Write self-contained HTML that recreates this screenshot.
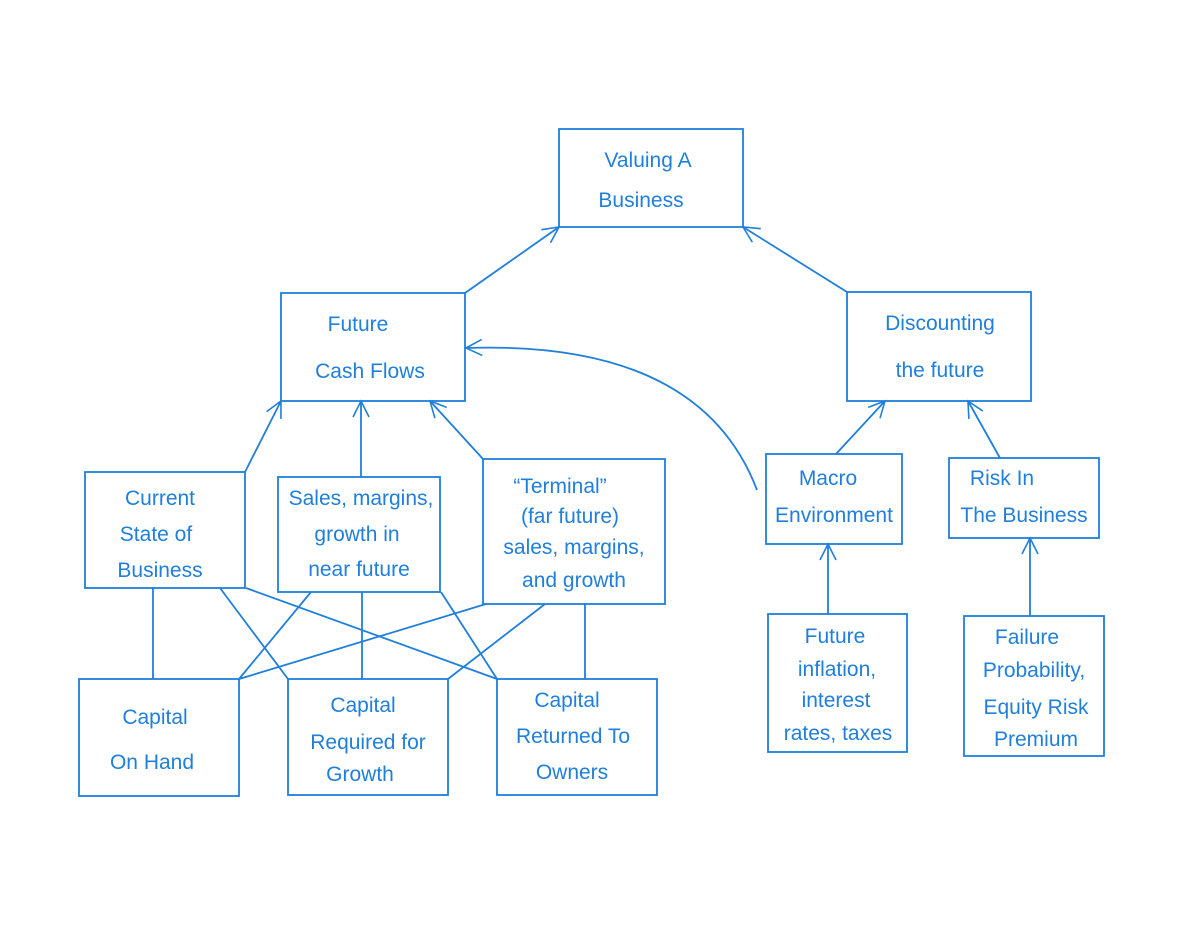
<!DOCTYPE html>
<html><head><style>
body{margin:0;background:#fff;}
svg text{font-family:"Liberation Sans",sans-serif;fill:#1f7fdb;font-size:21px;text-anchor:middle;}
</style></head><body>
<svg width="1200" height="927" viewBox="0 0 1200 927">
<defs><marker id="a" markerWidth="20" markerHeight="20" refX="18" refY="10" orient="auto" markerUnits="userSpaceOnUse">
<path d="M2,2 L18,10 L2,18" fill="none" stroke="#1f7fdb" stroke-width="1.6"/></marker></defs>
<g fill="none" stroke="#1f7fdb" stroke-width="1.8">
<rect x="559" y="129" width="184" height="98"/>
<rect x="281" y="293" width="184" height="108"/>
<rect x="847" y="292" width="184" height="109"/>
<rect x="85" y="472" width="160" height="116"/>
<rect x="278" y="477" width="162" height="115"/>
<rect x="483" y="459" width="182" height="145"/>
<rect x="766" y="454" width="136" height="90"/>
<rect x="949" y="458" width="150" height="80"/>
<rect x="79" y="679" width="160" height="117"/>
<rect x="288" y="679" width="160" height="116"/>
<rect x="497" y="679" width="160" height="116"/>
<rect x="768" y="614" width="139" height="138"/>
<rect x="964" y="616" width="140" height="140"/>
<line x1="465" y1="293" x2="559" y2="227" marker-end="url(#a)"/>
<line x1="847" y1="292" x2="743" y2="227" marker-end="url(#a)"/>
<line x1="245" y1="472" x2="281" y2="401" marker-end="url(#a)"/>
<line x1="361" y1="477" x2="361" y2="401" marker-end="url(#a)"/>
<line x1="483" y1="459" x2="430" y2="401" marker-end="url(#a)"/>
<path d="M757,490 Q700,340 466,348" marker-end="url(#a)"/>
<line x1="836" y1="454" x2="885" y2="401" marker-end="url(#a)"/>
<line x1="1000" y1="458" x2="968" y2="401" marker-end="url(#a)"/>
<line x1="828" y1="614" x2="828" y2="544" marker-end="url(#a)"/>
<line x1="1030" y1="616" x2="1030" y2="538" marker-end="url(#a)"/>
<line x1="153" y1="588" x2="153" y2="679"/>
<line x1="220" y1="588" x2="288" y2="679"/>
<line x1="246" y1="588" x2="497" y2="679"/>
<line x1="311" y1="592" x2="239" y2="679"/>
<line x1="362" y1="592" x2="362" y2="679"/>
<line x1="441" y1="592" x2="497" y2="679"/>
<line x1="486" y1="604" x2="239" y2="679"/>
<line x1="545" y1="604" x2="448" y2="679"/>
<line x1="585" y1="604" x2="585" y2="679"/>
</g>
<text x="648" y="167" font-size="22">Valuing  A</text>
<text x="641" y="207" font-size="22">Business</text>
<text x="358" y="331" font-size="24">Future</text>
<text x="370" y="378" font-size="24">Cash  Flows</text>
<text x="940" y="330" font-size="24">Discounting</text>
<text x="940" y="377" font-size="24">the  future</text>
<text x="160" y="505" font-size="23">Current</text>
<text x="156" y="541" font-size="23">State  of</text>
<text x="160" y="577" font-size="23">Business</text>
<text x="361" y="505" font-size="19">Sales, margins,</text>
<text x="357" y="541" font-size="19">growth  in</text>
<text x="359" y="576" font-size="19">near future</text>
<text x="560" y="493" font-size="19">“Terminal”</text>
<text x="570" y="523" font-size="19">(far future)</text>
<text x="574" y="554" font-size="19">sales, margins,</text>
<text x="574" y="587" font-size="19">and  growth</text>
<text x="828" y="485" font-size="20">Macro</text>
<text x="834" y="522" font-size="20">Environment</text>
<text x="1002" y="485" font-size="20">Risk   In</text>
<text x="1024" y="522" font-size="20">The  Business</text>
<text x="155" y="724" font-size="21">Capital</text>
<text x="152" y="769" font-size="21">On   Hand</text>
<text x="363" y="712" font-size="20">Capital</text>
<text x="368" y="749" font-size="19">Required for</text>
<text x="360" y="781" font-size="19">Growth</text>
<text x="567" y="707" font-size="20">Capital</text>
<text x="573" y="743" font-size="19">Returned  To</text>
<text x="572" y="779" font-size="19">Owners</text>
<text x="835" y="643" font-size="20">Future</text>
<text x="837" y="676" font-size="20">inflation,</text>
<text x="836" y="707" font-size="20">interest</text>
<text x="838" y="740" font-size="20">rates, taxes</text>
<text x="1027" y="644" font-size="20">Failure</text>
<text x="1034" y="677" font-size="19">Probability,</text>
<text x="1036" y="714" font-size="19">Equity  Risk</text>
<text x="1036" y="746" font-size="19">Premium</text>
</svg>
</body></html>
